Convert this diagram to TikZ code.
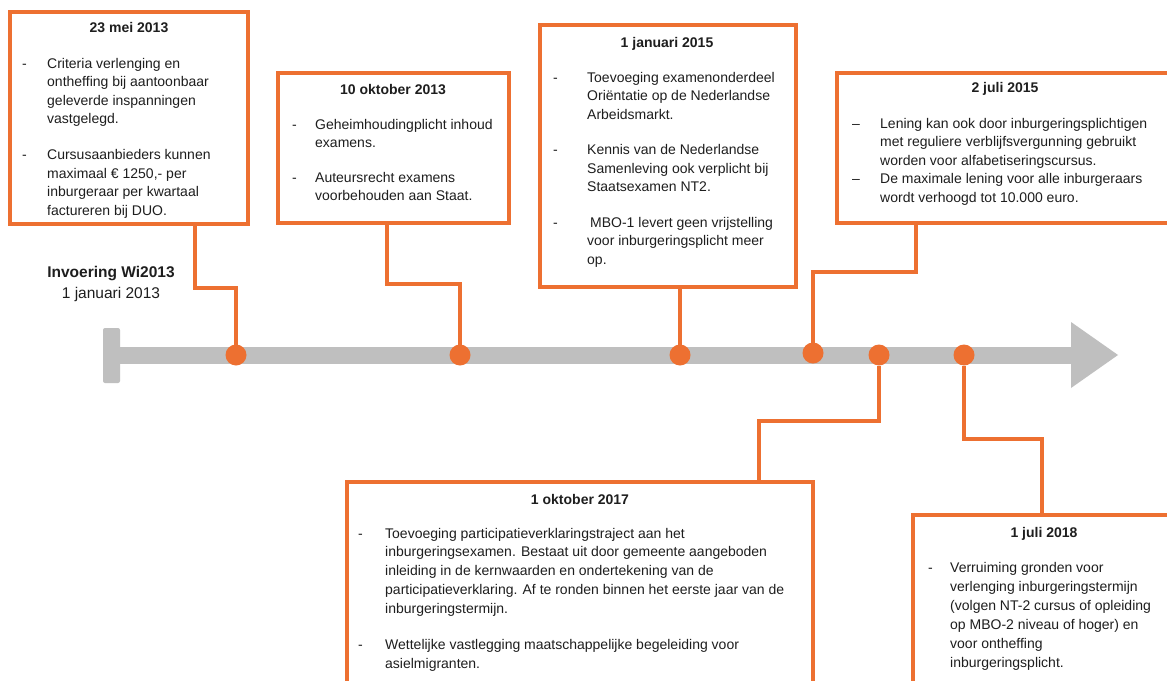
\documentclass[tikz,border=0pt]{standalone}
\usepackage{fontspec}
\setmainfont{Liberation Sans}
\definecolor{org}{RGB}{237,112,49}
\definecolor{bargray}{RGB}{191,191,191}
\definecolor{txt}{RGB}{30,30,30}
\newcommand\dsh[2]{\makebox[#1][l]{#2}}
\begin{document}
\begin{tikzpicture}[x=1pt,y=-1pt,
  box/.style={draw=org, line width=4pt, fill=white, inner sep=0pt, outer sep=0pt, anchor=north west},
  conn/.style={draw=org, line width=4pt},
  dot/.style={circle, fill=org, minimum size=21pt, inner sep=0pt, outer sep=0pt},
  ttl/.style={font=\fontsize{14}{18.5}\selectfont\bfseries, text=txt, anchor=base, inner sep=0pt},
  body/.style={font=\fontsize{14}{#1}\selectfont, text=txt, anchor=base west, inner sep=0pt},
  body/.default=18.5pt,
  lbl/.style={font=\fontsize{15.5}{18}\selectfont, text=txt, anchor=base, inner sep=0pt},
]
\useasboundingbox (0,0) rectangle (1167,680);
\clip (0,0) rectangle (1167,680);
\fill[white] (0,0) rectangle (1167,680);

% timeline bar
\fill[bargray] (118,347) rectangle (1073,364);
\fill[bargray, rounded corners=2pt] (103,328) rectangle (120,383);
\fill[bargray] (1071,322) -- (1118,355) -- (1071,388) -- cycle;

% start label
\node[lbl, font=\fontsize{15.5}{18}\selectfont\bfseries] (lbl1) at (111,277.5) {Invoering Wi2013};
\node[lbl] (lbl2) at (111,298.5) {1 januari 2013};

% dots
\node[dot] (d1) at (236,355) {};
\node[dot] (d2) at (460,355) {};
\node[dot] (d3) at (680,355) {};
\node[dot] (d4) at (813,353) {};
\node[dot] (d5) at (879,355) {};
\node[dot] (d6) at (964,355) {};

% boxes
\node[box, minimum width=238pt, minimum height=212pt] (b1) at (10,12) {};
\node[box, minimum width=231pt, minimum height=150pt] (b2) at (278,73) {};
\node[box, minimum width=256pt, minimum height=262pt] (b3) at (540,25) {};
\node[box, minimum width=340pt, minimum height=150pt] (b4) at (837,73) {};
\node[box, minimum width=466pt, minimum height=250pt] (b5) at (347,482) {};
\node[box, minimum width=270pt, minimum height=200pt] (b6) at (913,515) {};

% connectors
\coordinate (k1) at (195,288);
\coordinate (k2) at (387,284);
\coordinate (k4) at (916,272);
\coordinate (k5) at (759,421);
\coordinate (k6) at (1042,439);
\draw[conn] (b1.south -| k1) -- (k1) -| (d1);
\draw[conn] (b2.south -| k2) -- (k2) -| (d2);
\draw[conn] (b3.south -| d3) -- (d3);
\draw[conn] (b4.south -| k4) -- (k4) -| (d4);
\draw[conn] (d5) |- (k5) -- (k5 |- b5.north);
\draw[conn] (d6) |- (k6) -- (k6 |- b6.north);

% titles
\node[ttl] (h1) at (129,32) {23 mei 2013};
\node[ttl] (h2) at (393,94) {10 oktober 2013};
\node[ttl] (h3) at (667,47) {1 januari 2015};
\node[ttl] (h4) at (1005,92) {2 juli 2015};
\node[ttl] (h5) at (580,504) {1 oktober 2017};
\node[ttl] (h6) at (1044,537) {1 juli 2018};

% bodies
\node[body] (t1) at (22,68) {\begin{tabular}[t]{@{}l@{}l@{}}
\dsh{25pt}{-} & Criteria verlenging en\\
 & ontheffing bij aantoonbaar\\
 & geleverde inspanningen\\
 & vastgelegd.\\[17.5pt]
\dsh{25pt}{-} & Cursusaanbieders kunnen\\
 & maximaal € 1250,- per\\
 & inburgeraar per kwartaal\\
 & factureren bij DUO.
\end{tabular}};

\node[body] (t2) at (292,129) {\begin{tabular}[t]{@{}l@{}l@{}}
\dsh{23pt}{-} & Geheimhoudingplicht inhoud\\
 & examens.\\[16pt]
\dsh{23pt}{-} & Auteursrecht examens\\
 & voorbehouden aan Staat.
\end{tabular}};

\node[body] (t3) at (553,82) {\begin{tabular}[t]{@{}l@{}l@{}}
\dsh{34pt}{-} & Toevoeging examenonderdeel\\
 & Oriëntatie op de Nederlandse\\
 & Arbeidsmarkt.\\[17pt]
\dsh{34pt}{-} & Kennis van de Nederlandse\\
 & Samenleving ook verplicht bij\\
 & Staatsexamen NT2.\\[17pt]
\dsh{34pt}{-} & \hspace{3pt}MBO-1 levert geen vrijstelling\\
 & voor inburgeringsplicht meer\\
 & op.
\end{tabular}};

\node[body] (t4) at (852,128) {\begin{tabular}[t]{@{}l@{}l@{}}
\dsh{28pt}{–} & Lening kan ook door inburgeringsplichtigen\\
 & met reguliere verblijfsvergunning gebruikt\\
 & worden voor alfabetiseringscursus.\\
\dsh{28pt}{–} & De maximale lening voor alle inburgeraars\\
 & wordt verhoogd tot 10.000 euro.
\end{tabular}};

\node[body=18.75pt] (t5) at (358,538) {\begin{tabular}[t]{@{}l@{}l@{}}
\dsh{27pt}{-} & Toevoeging participatieverklaringstraject aan het\\
 & inburgeringsexamen. Bestaat uit door gemeente aangeboden\\
 & inleiding in de kernwaarden en ondertekening van de\\
 & participatieverklaring. Af te ronden binnen het eerste jaar van de\\
 & inburgeringstermijn.\\[17.5pt]
\dsh{27pt}{-} & Wettelijke vastlegging maatschappelijke begeleiding voor\\
 & asielmigranten.
\end{tabular}};

\node[body=19pt] (t6) at (928,572) {\begin{tabular}[t]{@{}l@{}l@{}}
\dsh{22pt}{-} & Verruiming gronden voor\\
 & verlenging inburgeringstermijn\\
 & (volgen NT-2 cursus of opleiding\\
 & op MBO-2 niveau of hoger) en\\
 & voor ontheffing\\
 & inburgeringsplicht.
\end{tabular}};
\end{tikzpicture}
\end{document}
